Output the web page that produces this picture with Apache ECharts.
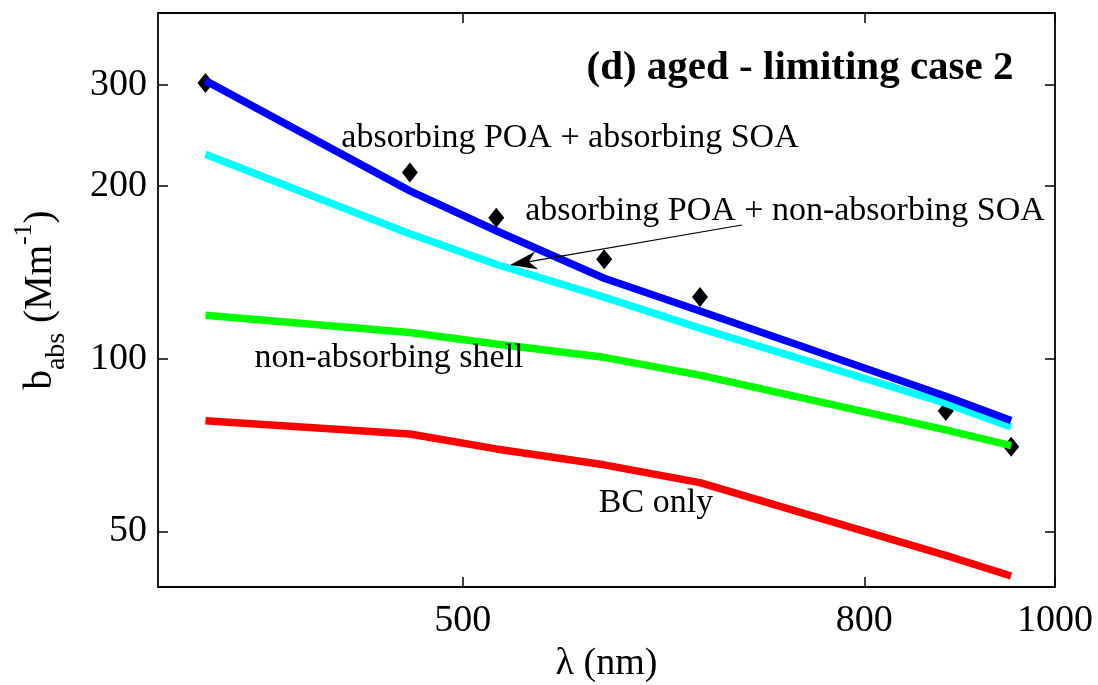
<!DOCTYPE html>
<html>
<head>
<meta charset="utf-8">
<script src="https://cdn.jsdelivr.net/npm/echarts@6/dist/echarts.min.js"></script>
<style>
html,body{margin:0;padding:0;background:#fff;}
#chart{width:1098px;height:685px;}
</style>
</head>
<body>
<div id="chart"></div>
<script>
// ---- data ----
const wavelengths = [370, 470, 520, 590, 660, 880, 950];            // nm
const absPoaAbsSoa = [305, 196, 167, 138, 121, 86.0, 78.0];         // blue
const absPoaNonAbsSoa = [227, 165, 146, 128, 113, 83.6, 76.0];      // cyan
const nonAbsShell = [119, 111, 106, 100.5, 93.6, 75.1, 70.5];       // green
const bcOnly = [77.9, 73.9, 69.6, 65.3, 60.8, 45.4, 41.8];          // red
const measured = [302, 211, 176, 149, 128, 81.0, 70.2];             // diamonds
const xTicks = [500, 800, 1000];
const yTicks = [50, 100, 200, 300];
const xRange = [350, 1000];
const yRange = [40, 400];

const FONT = 'Liberation Serif';
const toPairs = arr => wavelengths.map((w, i) => [w, arr[i]]);

function xAxisCfg(pos, main) {
  return {
    type: 'log', logBase: 10, position: pos, gridIndex: 0,
    min: xRange[0], max: xRange[1],
    axisLine: { show: true, onZero: false, lineStyle: { color: '#000', width: 1.8 } },
    axisTick: { show: true, inside: true, length: 10, customValues: xTicks, lineStyle: { color: '#000', width: 1.5 } },
    axisLabel: { show: main, customValues: xTicks, color: '#000', fontFamily: FONT, fontSize: 38, margin: 15,
      formatter: v => String(Math.round(v)) },
    splitLine: { show: false }, minorTick: { show: false }, minorSplitLine: { show: false },
    name: main ? 'λ (nm)' : '', nameLocation: 'middle', nameGap: 57,
    nameTextStyle: { color: '#000', fontFamily: FONT, fontSize: 38 }
  };
}
function yAxisCfg(pos, main) {
  return {
    type: 'log', logBase: 10, position: pos, gridIndex: 0,
    min: yRange[0], max: yRange[1],
    axisLine: { show: true, onZero: false, lineStyle: { color: '#000', width: 1.8 } },
    axisTick: { show: true, inside: true, length: 10, customValues: yTicks, lineStyle: { color: '#000', width: 1.5 } },
    axisLabel: { show: main, customValues: yTicks, color: '#000', fontFamily: FONT, fontSize: 38, margin: 11,
      formatter: v => String(Math.round(v)) },
    splitLine: { show: false }, minorTick: { show: false }, minorSplitLine: { show: false },
    name: main ? '{m|b}{sub|abs}{m| (Mm}{sup|-1}{m|)}' : '',
    nameLocation: 'middle', nameRotate: 90, nameGap: 87,
    nameTextStyle: {
      color: '#000', fontFamily: FONT, fontSize: 39,
      rich: {
        m: { fontFamily: FONT, fontSize: 39, lineHeight: 60, color: '#000' },
        sub: { fontFamily: FONT, fontSize: 28, lineHeight: 25, verticalAlign: 'bottom', color: '#000' },
        sup: { fontFamily: FONT, fontSize: 26, lineHeight: 35, verticalAlign: 'top', color: '#000' }
      }
    }
  };
}

function lineSeries(name, arr, color) {
  return {
    name, type: 'line', data: toPairs(arr), symbol: 'none', smooth: false, z: 3,
    lineStyle: { color, width: 7.5, cap: 'butt', join: 'round', opacity: 1 }
  };
}

// arrow annotation geometry (pixel space)
const arrowTail = [742, 225], arrowTip = [510, 265];
function arrowHead(tip, tail, len, half, notch) {
  const dx = tail[0] - tip[0], dy = tail[1] - tip[1];
  const L = Math.hypot(dx, dy), ux = dx / L, uy = dy / L, nx = -uy, ny = ux;
  return [
    tip,
    [tip[0] + ux * len + nx * half, tip[1] + uy * len + ny * half],
    [tip[0] + ux * notch, tip[1] + uy * notch],
    [tip[0] + ux * len - nx * half, tip[1] + uy * len - ny * half]
  ];
}

const txt = (text, x, y, size, bold, align) => ({
  type: 'text', x, y, z: 10,
  style: { text, fill: '#000', font: (bold ? 'bold ' : '') + size + 'px "' + FONT + '"',
    textAlign: align || 'center', textVerticalAlign: 'middle' }
});

const chart = echarts.init(document.getElementById('chart'), null, { renderer: 'canvas' });
chart.setOption({
  animation: false,
  backgroundColor: '#fff',
  grid: { left: 158, right: 43, top: 13, bottom: 98, outerBoundsMode: 'none', containLabel: false },
  xAxis: [xAxisCfg('bottom', true), xAxisCfg('top', false)],
  yAxis: [yAxisCfg('left', true), yAxisCfg('right', false)],
  series: [
    { name: 'measured', type: 'scatter', data: toPairs(measured), symbol: 'diamond', symbolSize: [16, 20],
      itemStyle: { color: '#000', opacity: 1 }, z: 1 },
    lineSeries('BC only', bcOnly, '#ff0000'),
    lineSeries('non-absorbing shell', nonAbsShell, '#00ff00'),
    lineSeries('absorbing POA + non-absorbing SOA', absPoaNonAbsSoa, '#00ffff'),
    lineSeries('absorbing POA + absorbing SOA', absPoaAbsSoa, '#0000ff')
  ],
  graphic: [
    txt('(d) aged - limiting case 2', 800, 68, 41, true),
    txt('absorbing POA + absorbing SOA', 570, 138, 34, false),
    txt('absorbing POA + non-absorbing SOA', 785, 211, 34, false),
    txt('non-absorbing shell', 389, 358, 34, false),
    txt('BC only', 656, 503, 34, false),
    { type: 'line', z: 10, shape: { x1: arrowTail[0], y1: arrowTail[1], x2: arrowTip[0] + 15, y2: arrowTip[1] - 2.6 },
      style: { stroke: '#000', lineWidth: 1.2 } },
    { type: 'polygon', z: 10, shape: { points: arrowHead(arrowTip, arrowTail, 27, 9, 19) },
      style: { fill: '#000' } }
  ]
});
</script>
</body>
</html>
